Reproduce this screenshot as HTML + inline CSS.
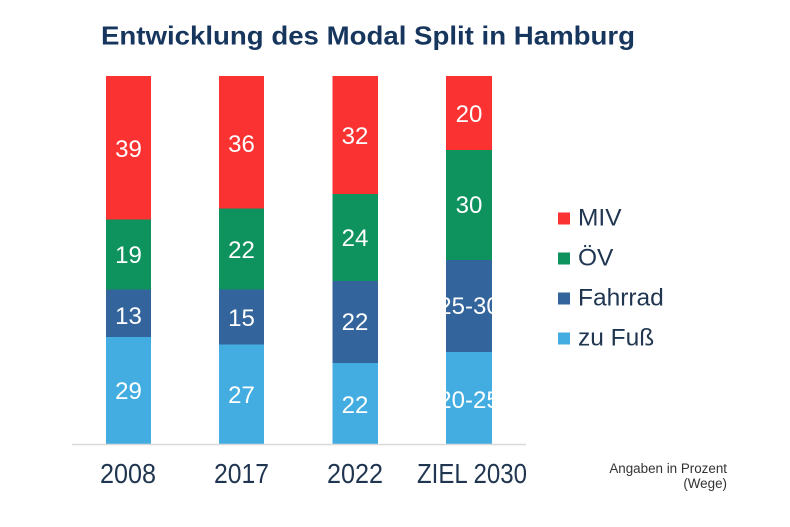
<!DOCTYPE html>
<html><head><meta charset="utf-8"><style>
html,body{margin:0;padding:0;background:#fff;}
svg{display:block;}
text{font-family:"Liberation Sans",Arial,sans-serif;}
</style></head><body>
<svg width="790" height="527" viewBox="0 0 790 527" xmlns="http://www.w3.org/2000/svg">
<rect width="790" height="527" fill="#fff"/>
<text x="101" y="44.5" font-size="26" font-weight="bold" fill="#17365d" textLength="534" lengthAdjust="spacingAndGlyphs">Entwicklung des Modal Split in Hamburg</text>

<!-- Bar 1 -->
<rect x="106" y="76" width="45" height="143.5" fill="#fb3232"/>
<rect x="106" y="219.5" width="45" height="70" fill="#0e935e"/>
<rect x="106" y="289.5" width="45" height="47.5" fill="#34649c"/>
<rect x="106" y="337" width="45" height="107" fill="#43ade2"/>
<!-- Bar 2 -->
<rect x="219" y="76" width="45" height="132.5" fill="#fb3232"/>
<rect x="219" y="208.5" width="45" height="81" fill="#0e935e"/>
<rect x="219" y="289.5" width="45" height="55" fill="#34649c"/>
<rect x="219" y="344.5" width="45" height="99.5" fill="#43ade2"/>
<!-- Bar 3 -->
<rect x="332.5" y="76" width="45.5" height="118" fill="#fb3232"/>
<rect x="332.5" y="194" width="45.5" height="87" fill="#0e935e"/>
<rect x="332.5" y="281" width="45.5" height="82" fill="#34649c"/>
<rect x="332.5" y="363" width="45.5" height="81" fill="#43ade2"/>
<!-- Bar 4 -->
<rect x="446" y="76" width="46" height="74" fill="#fb3232"/>
<rect x="446" y="150" width="46" height="110" fill="#0e935e"/>
<rect x="446" y="260" width="46" height="92" fill="#34649c"/>
<rect x="446" y="352" width="46" height="92" fill="#43ade2"/>

<line x1="72" y1="444.5" x2="526" y2="444.5" stroke="#d9d9d9" stroke-width="1.5"/>

<g font-size="24" fill="#fff" text-anchor="middle">
<text x="128.5" y="157">39</text>
<text x="128.5" y="263">19</text>
<text x="128.5" y="324">13</text>
<text x="128.5" y="399">29</text>

<text x="241.5" y="152">36</text>
<text x="241.5" y="258">22</text>
<text x="241.5" y="326">15</text>
<text x="241.5" y="403">27</text>

<text x="355" y="144">32</text>
<text x="355" y="246">24</text>
<text x="355" y="330">22</text>
<text x="355" y="413">22</text>

<text x="469" y="122">20</text>
<text x="469" y="213">30</text>
<text x="469" y="314">25-30</text>
<text x="469" y="408">20-25</text>
</g>

<g font-size="28" fill="#1f3550" text-anchor="middle">
<text x="128" y="483" textLength="56" lengthAdjust="spacingAndGlyphs">2008</text>
<text x="241.5" y="483" textLength="55" lengthAdjust="spacingAndGlyphs">2017</text>
<text x="355" y="483" textLength="56" lengthAdjust="spacingAndGlyphs">2022</text>
<text x="472" y="483" textLength="110" lengthAdjust="spacingAndGlyphs">ZIEL 2030</text>
</g>

<g font-size="24.5" fill="#1f3550">
<rect x="558" y="212.5" width="12" height="12" fill="#fb3232"/>
<text x="578" y="225.5">MIV</text>
<rect x="558" y="252.5" width="12" height="12" fill="#0e935e"/>
<text x="578" y="265.5">ÖV</text>
<rect x="558" y="292.5" width="12" height="12" fill="#34649c"/>
<text x="578" y="305.5">Fahrrad</text>
<rect x="558" y="332.5" width="12" height="12" fill="#43ade2"/>
<text x="578" y="345.5">zu Fuß</text>
</g>

<g font-size="13.4" fill="#333" text-anchor="end">
<text x="727" y="473">Angaben in Prozent</text>
<text x="727" y="488">(Wege)</text>
</g>
</svg>
</body></html>
